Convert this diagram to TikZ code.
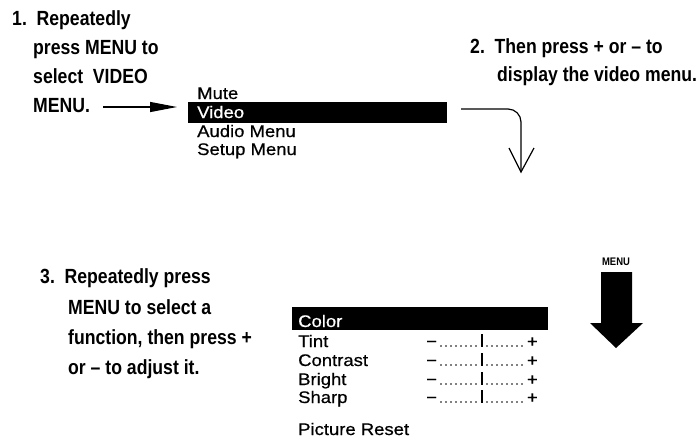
\documentclass[tikz,border=0pt]{standalone}
\usepackage{fontspec}
\setmainfont{Liberation Sans}
\newfontfamily\stepfont[FakeStretch=0.86]{Liberation Sans}
\newfontfamily\menufont[FakeStretch=1.1,FakeBold=0.6]{Liberation Sans}
\usetikzlibrary{arrows.meta,calc}
\tikzset{
  steptext/.style={anchor=base west,inner sep=0pt,font=\stepfont\bfseries\fontsize{20.5}{20.5}\selectfont},
  menutext/.style={anchor=base west,inner sep=0pt,font=\menufont\fontsize{16.8}{16.8}\selectfont},
  menubar/.style={fill=black,draw=none},
  conn/.style={line width=1.2pt},
  tick/.style={line width=1.8pt},
}
\begin{document}
\begin{tikzpicture}[x=1pt,y=-1pt]
\useasboundingbox (0,0) rectangle (700,440);
% Step 1
\node[steptext] (s1a) at (12,25) {1.\ \ Repeatedly};
\node[steptext] (s1b) at (33,54) {press MENU to};
\node[steptext] (s1c) at (33,83) {select\ \ VIDEO};
\node[steptext] (s1d) at (33,112) {MENU.};
% Upper menu
\fill[menubar] (188,102) rectangle (447,123);
\node[menutext] (m1) at (197,99) {Mute};
\node[menutext,text=white] (m2) at (197,118) {Video};
\node[menutext] (m3) at (197,137) {Audio Menu};
\node[menutext] (m4) at (197,155) {Setup Menu};
\coordinate (vbarE) at (461,109);
\coordinate (a1s) at (103,107);
\coordinate (a1e) at (177,107);
\draw[conn,-{Triangle[length=27pt,width=10pt]}] (a1s) -- (a1e);
% Step 2
\node[steptext] (s2a) at (470,53) {2.\ \ Then press + or – to};
\node[steptext] (s2b) at (497,81) {display the video menu.};
\coordinate (a2e) at (521,172);
\draw[conn,rounded corners=13pt] (vbarE) -- (521,109) -- (a2e);
\draw[conn] (509,148) -- (a2e) -- (534,148);
% Step 3
\node[steptext] (s3a) at (40,283) {3.\ \ Repeatedly press};
\node[steptext] (s3b) at (68,314) {MENU to select a};
\node[steptext] (s3c) at (68,344) {function, then press +};
\node[steptext] (s3d) at (68,374) {or – to adjust it.};
% Lower menu
\fill[menubar] (292,307) rectangle (548,330);
\node[menutext,text=white] (c0) at (298,327) {Color};
\foreach \name/\txt/\yy in {c1/Tint/347,c2/Contrast/366,c3/Bright/385,c4/Sharp/403}{
  \node[menutext] (\name) at (298,\yy) {\txt};
  \node[menutext] (\name m) at (426,\yy) {−};
  \node[menutext,anchor=base east] (\name p) at (538,\yy) {+};
  \foreach \xx in {441,446,...,478,487,492,...,524}{
    \fill (\xx,\yy-1) circle (0.9);
  }
  \draw[tick] (482,\yy-13) -- (482,\yy);
}
\node[menutext] (pr) at (298,435) {Picture Reset};
% MENU arrow
\node[anchor=base,inner sep=0pt,font=\stepfont\bfseries\fontsize{11}{11}\selectfont] (ml) at (616,265) {MENU};
\fill (601,272) -- (632,272) -- (632,323) -- (643,323) -- (616,348) -- (590,323) -- (601,323) -- cycle;
\end{tikzpicture}
\end{document}
